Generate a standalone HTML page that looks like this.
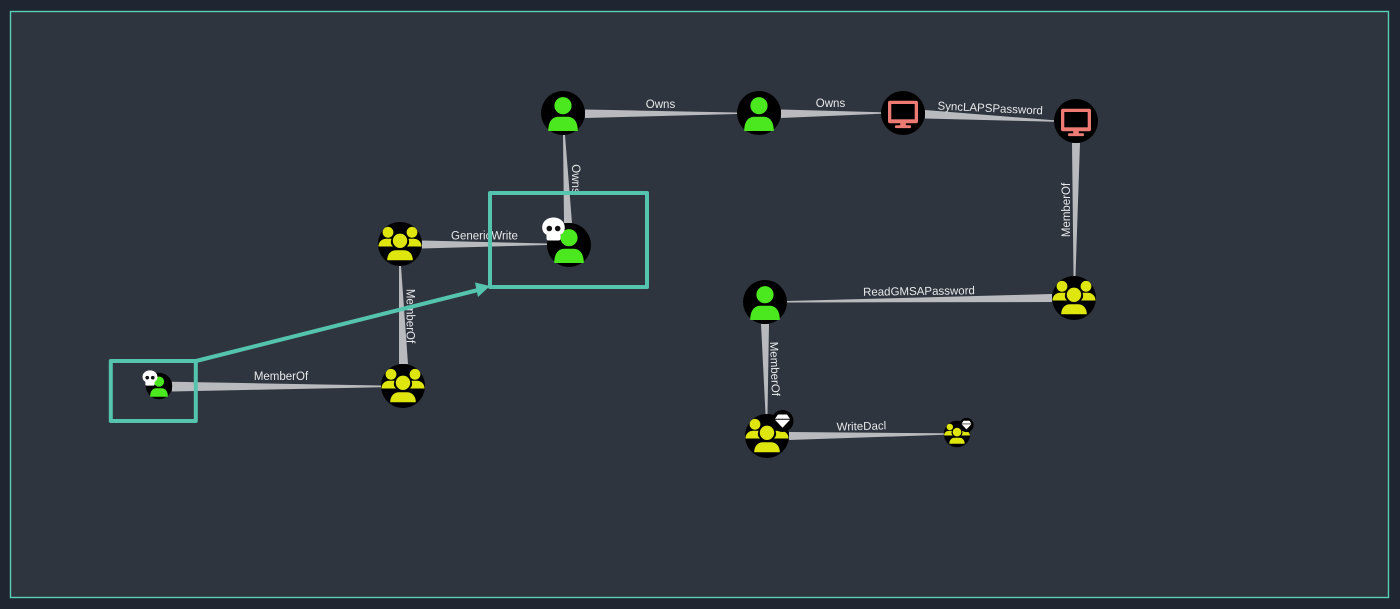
<!DOCTYPE html>
<html><head><meta charset="utf-8">
<style>
html,body{margin:0;padding:0;background:#1f2632;width:1400px;height:609px;overflow:hidden}
svg{display:block;filter:blur(.35px)}
text{font-family:"Liberation Sans",sans-serif;font-size:11.5px;fill:#e6e8ea;text-anchor:middle}
.e{fill:#b8babd}
</style></head><body>
<svg width="1400" height="609" viewBox="0 0 1400 609" xmlns="http://www.w3.org/2000/svg">
<defs>
<g id="user"><circle r="22" fill="#000"/><circle cx="0" cy="-7.3" r="8.6" fill="#4ce81f"/><path d="M-14.8 18C-14.8 9 -11 3.800 -4.500 3.800H4.500C11 3.800 14.8 9 14.8 18Z" fill="#4ce81f"/></g>
<g id="group"><circle r="22" fill="#000"/><g fill="#dfe60e"><circle cx="-12" cy="-11.7" r="5.400"/><circle cx="12" cy="-11.700" r="5.400"/><path d="M-21.500 2.500C-21.500 -3 -17 -5.200 -14 -5.200H-8.500C-9.500 -2 -9.500 0 -7 2.500Z"/><path d="M21.500 2.500C21.500 -3 17 -5.200 14 -5.200H8.500C9.500 -2 9.500 0 7 2.500Z"/><circle cx="0" cy="-3.200" r="7.200"/><path d="M-12.800 16.300C-12.800 10 -9 6.300 -4 6.300H4C9 6.300 12.800 10 12.800 16.300Z"/></g></g>
<g id="comp"><circle r="22" fill="#000"/><rect x="-15" y="-12.300" width="30" height="22.500" rx="2" fill="#ee7b73"/><rect x="-11.700" y="-9" width="23.400" height="15.300" fill="#000"/><rect x="-2.800" y="10" width="5.600" height="3" fill="#ee7b73"/><rect x="-8" y="12.300" width="16" height="2.800" rx="1" fill="#ee7b73"/></g>
<g id="skull"><path d="M0 -11.500C6.800 -11.500 11.300 -7 11.300 -1.500C11.300 2 9.500 4.500 7 5.700V9.500Q7 11.500 5 11.500H-5Q-7 11.500 -7 9.500V5.700C-9.500 4.500 -11.300 2 -11.300 -1.500C-11.300 -7 -6.800 -11.500 0 -11.500Z" fill="#fff"/><circle cx="-4.200" cy="-0.500" r="2.800" fill="#111"/><circle cx="4.200" cy="-0.500" r="2.800" fill="#111"/></g>
<g id="gem"><circle r="11" fill="#000"/><path d="M-4.500 -6.500H4.500L7.500 -2.200H-7.500Z" fill="#fff"/><path d="M-7.500 -1.200H7.500L0 6.800Z" fill="#fff"/></g>
</defs>
<rect x="0" y="0" width="1400" height="609" fill="#1f2632"/>
<rect x="10.500" y="11.500" width="1378" height="586" fill="#2f353e" stroke="#5ad0b6" stroke-width="1.400"/>

<!-- edges -->
<polygon class="e" points="172,381.800 172,391.500 381,387.300 381,385.500"/>
<polygon class="e" points="399,364 408,364 401,266 399,266"/>
<polygon class="e" points="422,240.500 422,248.500 547,245 547,243.500"/>
<polygon class="e" points="563,135 565,135 572,223 564,223"/>
<polygon class="e" points="585,109.500 585,118 737,114 737,112.500"/>
<polygon class="e" points="781,109.500 781,118 881,113.800 881,112.300"/>
<polygon class="e" points="925,110 925,118.500 1054,121.800 1054,120.300"/>
<polygon class="e" points="1072,143 1080,143 1075.500,276 1073.500,276"/>
<polygon class="e" points="1052,294 1052,302 787,302.500 787,301"/>
<polygon class="e" points="761,324 769,324 767.500,414 765.500,414"/>
<polygon class="e" points="789,432 789,440 944,434.800 944,433.300"/>

<!-- labels -->
<text x="281" y="380">MemberOf</text>
<text transform="translate(406.500,316) rotate(90)" x="0" y="0">MemberOf</text>
<text x="484.500" y="239.500">GenericWrite</text>
<text transform="translate(572,179) rotate(90)" x="0" y="0">Owns</text>
<text x="660.500" y="108">Owns</text>
<text x="830.500" y="107">Owns</text>
<text transform="translate(990,112) rotate(2.700)" x="0" y="0">SyncLAPSPassword</text>
<text transform="translate(1070,210) rotate(-90)" x="0" y="0">MemberOf</text>
<text transform="translate(919,295) rotate(-0.800)" x="0" y="0">ReadGMSAPassword</text>
<text transform="translate(771,369) rotate(88)" x="0" y="0">MemberOf</text>
<text transform="translate(861.500,430) rotate(-1.500)" x="0" y="0">WriteDacl</text>

<!-- nodes -->
<use href="#user" transform="translate(159,386) scale(.6)"/>
<use href="#skull" transform="translate(150,378) scale(.66)"/>
<use href="#group" x="403" y="386"/>
<use href="#group" x="400" y="244"/>
<use href="#user" x="569" y="245"/>
<use href="#skull" x="553.500" y="229"/>
<use href="#user" x="563" y="113"/>
<use href="#user" x="759" y="113"/>
<use href="#comp" x="903" y="113"/>
<use href="#comp" x="1076" y="121"/>
<use href="#group" x="1074" y="298"/>
<use href="#user" x="765" y="302"/>
<use href="#group" x="767" y="436"/>
<use href="#gem" x="782.500" y="421"/>
<use href="#group" transform="translate(957,434) scale(.6)"/>
<use href="#gem" transform="translate(966.500,425) scale(.65)"/>

<!-- teal overlays -->
<g fill="none" stroke="#55c4ae" stroke-linejoin="round">
<rect x="110.800" y="361" width="85" height="60" stroke-width="4"/>
<rect x="490" y="193" width="157" height="94" stroke-width="4"/>
<line x1="196" y1="361" x2="480" y2="289.500" stroke-width="4"/>
</g>
<polygon points="490,286 475,282.500 478,297" fill="#55c4ae"/>
</svg>
</body></html>
